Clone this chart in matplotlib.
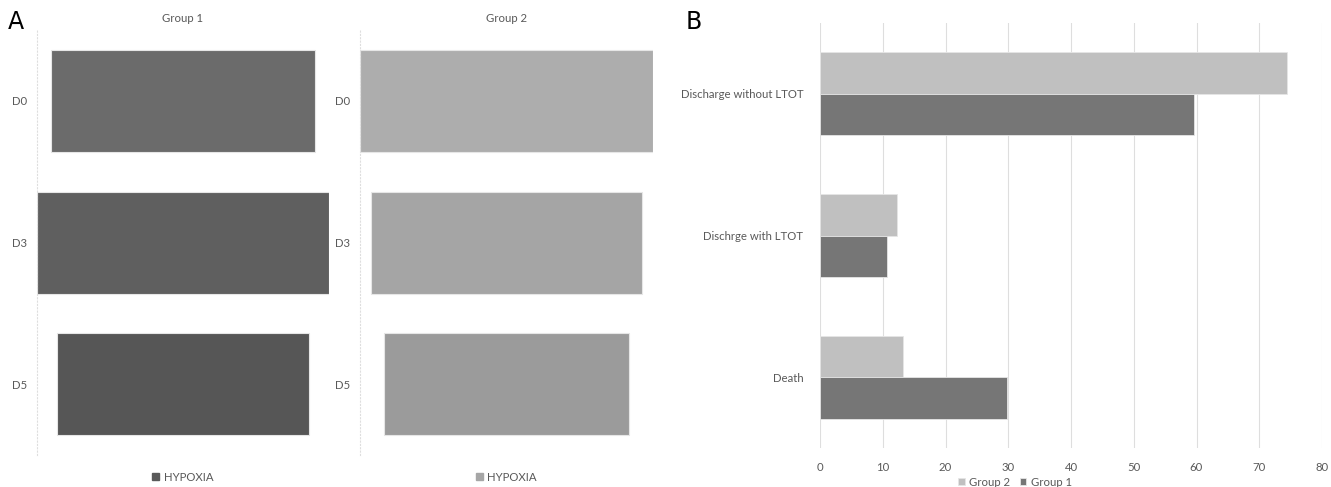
import numpy as np
import matplotlib.pyplot as plt
from matplotlib.patches import Patch

plt.rcParams['font.family'] = ['Lato', 'DejaVu Sans']

W, H = 1331, 487

# panel A: hypoxia by day (relative widths, funnel style)
days = ["D0", "D3", "D5"]
hypoxia_g1 = [90.4, 100.0, 86.0]
hypoxia_g2 = [100.0, 92.5, 83.6]
colors_g1 = ["#6b6b6b", "#5f5f5f", "#565656"]
colors_g2 = ["#adadad", "#a5a5a5", "#9b9b9b"]

# panel B: outcome percentages
outcomes = ["Discharge without LTOT", "Dischrge with LTOT", "Death"]
group2 = [74.5, 12.2, 13.3]
group1 = [59.6, 10.6, 29.8]

text_col = "#595959"
grid_col = "#dedede"


def px_axes(fig, x0, y0, x1, y1):
    # pixel box (top-left origin) -> figure axes
    return fig.add_axes([x0 / W, 1 - y1 / H, (x1 - x0) / W, (y1 - y0) / H])


def funnel(ax, vals, cols, title):
    vals = np.array(vals)
    y = np.arange(len(vals))
    ax.barh(y, vals, left=-vals / 2, height=0.72, color=cols,
            edgecolor="#e6e6e6", linewidth=0.8)
    m = vals.max() / 2
    ax.set_xlim(-m, m)
    ax.set_ylim(len(vals) - 0.5, -0.5)
    ax.set_yticks(y)
    ax.set_yticklabels(days, color=text_col, fontsize=8.2)
    ax.tick_params(axis="y", length=0, pad=7)
    ax.set_xticks([])
    for s in ["top", "right", "bottom"]:
        ax.spines[s].set_visible(False)
    ax.spines["left"].set_color(grid_col)
    ax.spines["left"].set_linestyle((0, (1, 2)))
    ax.spines["left"].set_linewidth(0.8)
    ax.set_title(title, color=text_col, fontsize=8.2, pad=6)


fig = plt.figure(figsize=(W / 100, H / 100), dpi=100)

ax1 = px_axes(fig, 37, 30, 329, 455)
funnel(ax1, hypoxia_g1, colors_g1, "Group 1")
ax2 = px_axes(fig, 360, 30, 653, 455)
funnel(ax2, hypoxia_g2, colors_g2, "Group 2")

for ax, c in [(ax1, "#595959"), (ax2, "#a6a6a6")]:
    ax.legend(handles=[Patch(color=c, label="HYPOXIA")], loc="upper center",
              bbox_to_anchor=(0.5, -0.015), frameon=False, fontsize=8.2,
              handlelength=0.6, handleheight=0.6, handletextpad=0.4,
              labelcolor=text_col)

fig.text(8 / W, 1 - 22 / H, "A", fontsize=17, family="DejaVu Sans", va="center")
fig.text(686 / W, 1 - 22 / H, "B", fontsize=17, family="DejaVu Sans", va="center")

# panel B
axb = px_axes(fig, 820, 23, 1322, 448)
yb = np.arange(len(outcomes))
h = 0.293
axb.barh(yb - h / 2, group2, height=h, color="#c0c0c0", edgecolor="#e6e6e6",
         linewidth=0.6, label="Group 2", zorder=3)
axb.barh(yb + h / 2, group1, height=h, color="#767676", edgecolor="#e6e6e6",
         linewidth=0.6, label="Group 1", zorder=3)
axb.set_xlim(0, 80)
axb.set_ylim(len(outcomes) - 0.5, -0.5)
axb.set_xticks(range(0, 81, 10))
axb.set_yticks(yb)
axb.set_yticklabels(outcomes, color=text_col, fontsize=8.2)
axb.tick_params(axis="both", length=0, colors=text_col, labelsize=8.2)
axb.tick_params(axis="y", pad=12)
axb.tick_params(axis="x", pad=10)
axb.grid(axis="x", color=grid_col, linewidth=0.8, zorder=0)
for s in axb.spines.values():
    s.set_visible(False)
hb, lb = axb.get_legend_handles_labels()
fig.legend(hb, lb, loc="center", bbox_to_anchor=(1015 / W, 1 - 482 / H),
           ncol=2, frameon=False, fontsize=8.2, handlelength=0.6,
           handleheight=0.6, handletextpad=0.4, columnspacing=0.8,
           labelcolor=text_col)

fig.savefig("out.png", dpi=100)
